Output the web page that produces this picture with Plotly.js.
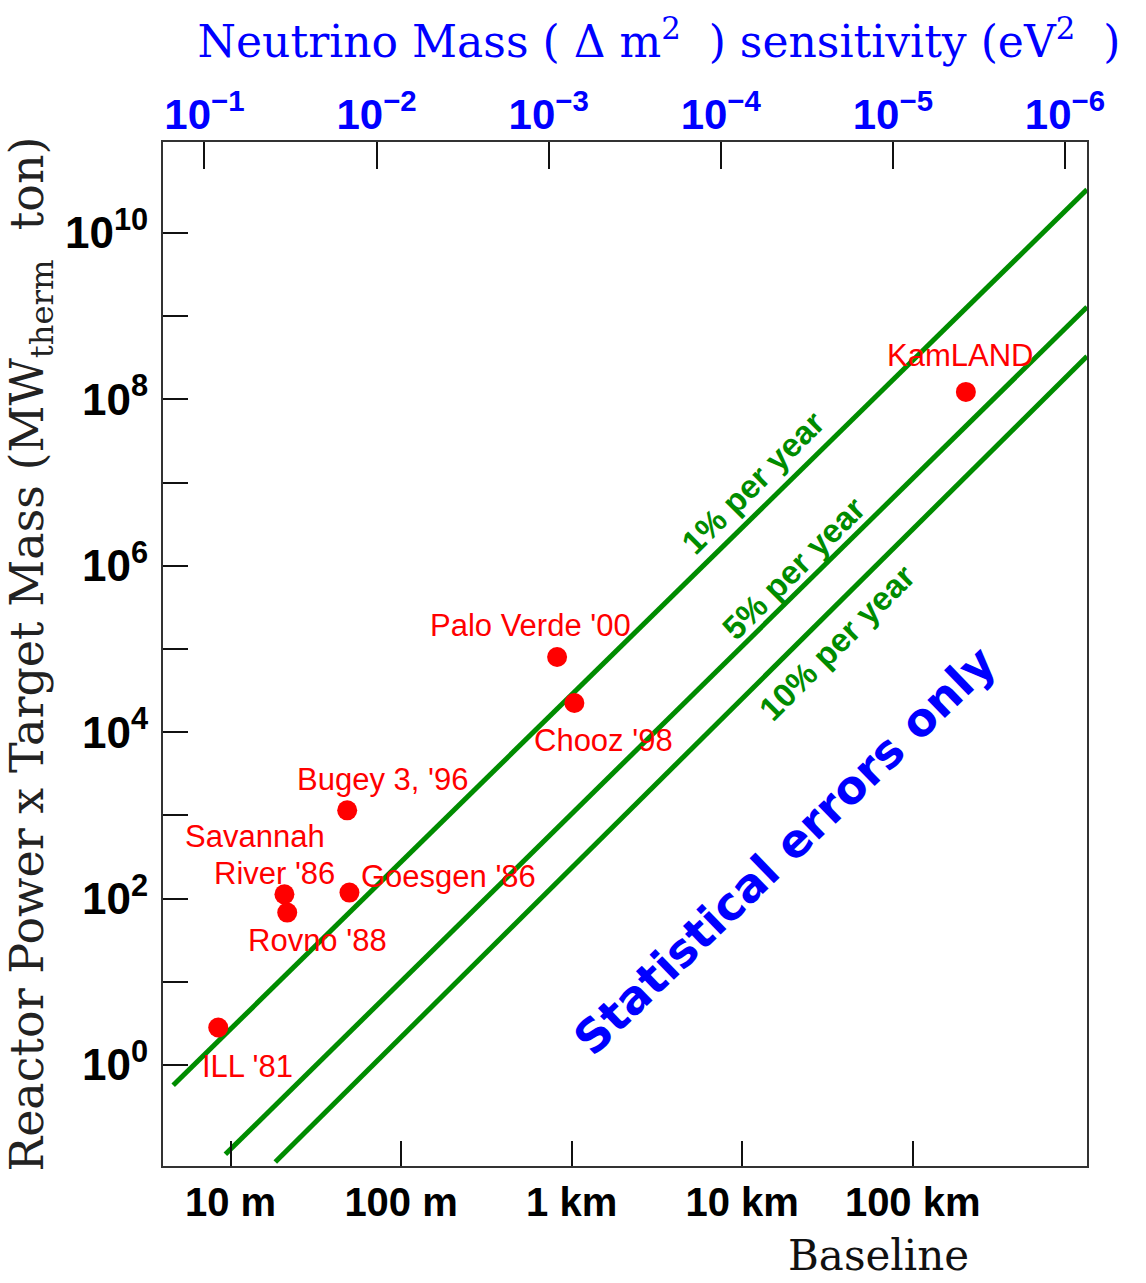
<!DOCTYPE html>
<html><head><meta charset="utf-8">
<script src="https://cdn.plot.ly/plotly-3.0.1.min.js"></script>
<style>html,body{margin:0;padding:0;background:#fff;}</style>
</head><body><div id="chart" style="width:1146px;height:1283px;"></div>
<script>
// ---- data ----
const experiments = ["ILL '81", "Savannah River '86", "Rovno '88", "Bugey 3, '96", "Goesgen '86", "Palo Verde '00", "Chooz '98", "KamLAND"];
const baselineM = [8.47, 20.7, 21.5, 48.3, 49.8, 822, 1038, 205000];
const powerMass = [2.82, 112.6, 67.9, 1151, 118, 80150, 22440, 1.23e8];

const lineNames = ["1% per year", "5% per year", "10% per year"];
const line1L = [4.61, 1.052e6];
const line1P = [0.570, 3.33e10];
const line2L = [9.33, 1.052e6];
const line2P = [0.0845, 1.29e9];
const line3L = [18.3, 1.052e6];
const line3P = [0.0682, 3.30e8];

const baselineTickVals = [10, 100, 1000, 1e4, 1e5];
const baselineTickText = ["10 m", "100 m", "1 km", "10 km", "100 km"];
const powerTickVals = [1, 10, 1e2, 1e3, 1e4, 1e5, 1e6, 1e7, 1e8, 1e9, 1e10];
const powerTickText = ["10<sup>0</sup>", "", "10<sup>2</sup>", "", "10<sup>4</sup>", "", "10<sup>6</sup>", "", "10<sup>8</sup>", "", "10<sup>10</sup>"];
const dm2TickVals = [1e-1, 1e-2, 1e-3, 1e-4, 1e-5, 1e-6];
const dm2TickText = ["10<sup>\u22121</sup>", "10<sup>\u22122</sup>", "10<sup>\u22123</sup>", "10<sup>\u22124</sup>", "10<sup>\u22125</sup>", "10<sup>\u22126</sup>"];

// label texts (Savannah River is split over two lines)
const labelTexts = ["ILL '81", "Savannah", "River '86", "Rovno '88", "Bugey 3, '96", "Goesgen '86", "Palo Verde '00", "Chooz '98", "KamLAND"];
const labelPoint = [0, 1, 1, 2, 3, 4, 5, 6, 7];

// ---- layout / style ----
const labelShift = [[29, -39], [-29, 58], [-10, 21], [30, -28], [35, 31], [99, 16], [-27, 32], [29, -37], [-6, 36]];
const lineLabelPos = [[4.062, 7.004], [4.30, 5.97], [4.556, 5.08]];
const GREEN = "rgb(0,140,0)";
const RED = "rgb(255,0,0)";
const BLUE = "rgb(0,0,255)";
const SANS = "Liberation Sans, Arial, Helvetica, sans-serif";
const SERIF = "DejaVu Serif, Liberation Serif, serif";

const lineStyle = {color: GREEN, width: 5};
const traces = [
  {x: line1L, y: line1P, mode: "lines", line: lineStyle, name: lineNames[0], hoverinfo: "skip"},
  {x: line2L, y: line2P, mode: "lines", line: lineStyle, name: lineNames[1], hoverinfo: "skip"},
  {x: line3L, y: line3P, mode: "lines", line: lineStyle, name: lineNames[2], hoverinfo: "skip"},
  {x: baselineM, y: powerMass, text: experiments, mode: "markers", marker: {color: RED, size: 20}, name: "Experiments"},
  {x: dm2TickVals, y: dm2TickVals.map(() => 1), xaxis: "x2", yaxis: "y", mode: "markers", marker: {opacity: 0}, hoverinfo: "skip", showlegend: false}
];

const annotations = labelTexts.map((t, i) => ({
  x: Math.log10(baselineM[labelPoint[i]]), y: Math.log10(powerMass[labelPoint[i]]),
  xref: "x", yref: "y", text: t, showarrow: false,
  xshift: labelShift[i][0], yshift: labelShift[i][1],
  xanchor: "center", yanchor: "middle",
  font: {family: SANS, size: 31, color: RED}
}));
lineNames.forEach((t, i) => annotations.push({
  x: lineLabelPos[i][0], y: lineLabelPos[i][1], xref: "x", yref: "y",
  text: t, showarrow: false, textangle: -45,
  font: {family: SANS, size: 33, color: GREEN, weight: "bold"}
}));
annotations.push({
  x: 4.253, y: 2.58, xref: "x", yref: "y", text: "Statistical errors only",
  showarrow: false, textangle: -44,
  font: {family: "DejaVu Sans, sans-serif", size: 46, color: BLUE, weight: "bold"}
});
annotations.push({
  x: 0.774, y: -0.0875, xref: "paper", yref: "paper", text: "Baseline",
  showarrow: false, xanchor: "center", yanchor: "middle",
  font: {family: SERIF, size: 42, color: "#111"}
});

const layout = {
  width: 1146, height: 1283,
  margin: {l: 163, r: 59, t: 142, b: 117},
  paper_bgcolor: "#fff", plot_bgcolor: "#fff",
  showlegend: false, hovermode: false,
  title: {
    text: "Neutrino Mass (\u00a0\u0394\u00a0m<sup>2</sup>\u00a0\u00a0) sensitivity (eV<sup>2</sup>\u00a0\u00a0)",
    font: {family: SERIF, size: 44, color: BLUE},
    xref: "container", yref: "container", x: 659 / 1146, xanchor: "center", y: 1 - 42 / 1283, yanchor: "middle"
  },
  xaxis: {
    type: "log", range: [0.604, 6.022], autorange: false,
    tickmode: "array", tickvals: baselineTickVals, ticktext: baselineTickText,
    ticks: "inside", ticklen: 25, tickwidth: 2, tickcolor: "#111",
    showline: true, linewidth: 2, linecolor: "#333", mirror: true,
    showgrid: false, zeroline: false,
    tickfont: {family: SANS, size: 40, color: "#000", weight: "bold"},
    ticklabelstandoff: 0
  },
  xaxis2: {
    type: "log", range: [-0.759, -6.128], autorange: false,
    overlaying: "x", side: "top", anchor: "y",
    tickmode: "array", tickvals: dm2TickVals, ticktext: dm2TickText,
    ticks: "inside", ticklen: 27, tickwidth: 2, tickcolor: "#111",
    showline: false, showgrid: false, zeroline: false,
    tickfont: {family: SANS, size: 42, color: BLUE, weight: "bold"},
    ticklabelstandoff: 4
  },
  yaxis: {
    type: "log", range: [-1.214, 11.094], autorange: false,
    tickmode: "array", tickvals: powerTickVals, ticktext: powerTickText,
    ticks: "inside", ticklen: 25, tickwidth: 2, tickcolor: "#111",
    showline: true, linewidth: 2, linecolor: "#333", mirror: true,
    showgrid: false, zeroline: false,
    tickfont: {family: SANS, size: 44, color: "#000", weight: "bold"},
    ticklabelstandoff: 4,
    title: {
      text: "\u00a0\u00a0Reactor Power x Target Mass (MW<sub>therm</sub>\u00a0\u00a0ton)",
      font: {family: SERIF, size: 46, color: "#222"}, standoff: 10
    }
  },
  annotations: annotations
};

Plotly.newPlot("chart", traces, layout, {displayModeBar: false, staticPlot: true});
</script>
</body></html>
